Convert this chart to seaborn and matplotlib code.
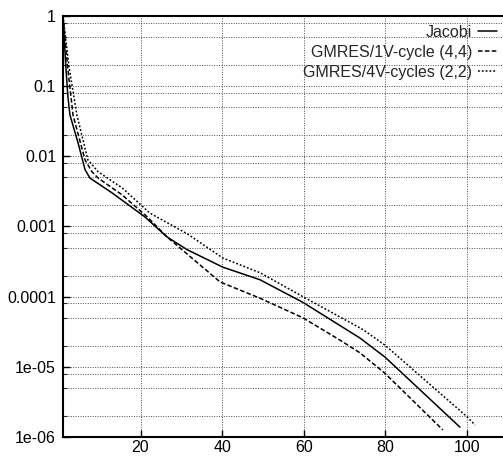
import matplotlib
matplotlib.use("Agg")
import matplotlib.pyplot as plt
import seaborn as sns
from matplotlib.ticker import FixedLocator, FixedFormatter, NullFormatter

# residual history
jacobi_iter = [1, 1.7, 2.2, 2.7, 4.7, 6.4, 7.6, 13, 21, 26.5, 31.4, 40.2, 49.3, 59.8, 73.8, 79.9, 98.3]
jacobi_res = [1, 0.186, 0.0708, 0.0389, 0.0155, 0.00646, 0.0049, 0.00302, 0.00138, 7.1e-4,
              4.68e-4, 2.63e-4, 1.74e-4, 8.3e-5, 2.57e-5, 1.38e-5, 1.38e-6]

gmres1_iter = [1, 2.15, 3.45, 6.4, 8.1, 9.6, 15.5, 21.6, 26.5, 39.5, 49.3, 59.8, 68.9, 73.8, 79.9, 94.1]
gmres1_res = [1, 0.186, 0.0389, 0.0089, 0.00603, 0.0049, 0.00282, 0.00138, 7.1e-4, 1.62e-4,
              9.5e-5, 5.0e-5, 2.4e-5, 1.58e-5, 8.1e-6, 1.26e-6]

gmres4_iter = [1, 2.5, 4.4, 7.1, 9.6, 15.5, 22.3, 31.4, 40.2, 49.3, 59.8, 74.5, 79.9, 100, 102]
gmres4_res = [1, 0.186, 0.0389, 0.0089, 0.00603, 0.00355, 0.00155, 7.9e-4, 3.55e-4, 2.19e-4,
              1.0e-4, 3.4e-5, 2.04e-5, 1.95e-6, 1.48e-6]

labels = ["Jacobi", "GMRES/1V-cycle (4,4)", "GMRES/4V-cycles (2,2)"]
ytick_vals = [1e-6, 1e-5, 1e-4, 1e-3, 1e-2, 1e-1, 1]
ytick_labels = ["1e-06", "1e-05", "0.0001", "0.001", "0.01", "0.1", "1"]
xtick_vals = [20, 40, 60, 80, 100]

sns.set_theme(style="ticks")
plt.rcParams["font.family"] = ["Liberation Sans", "DejaVu Sans"]
plt.rcParams["font.size"] = 11

fig = plt.figure(figsize=(5.03, 4.57), dpi=100)
ax = fig.add_axes([63 / 503, 20 / 457, 440 / 503, 421 / 457])

sns.lineplot(x=jacobi_iter, y=jacobi_res, ax=ax, color="black", lw=1.1,
             linestyle="-", label=labels[0])
sns.lineplot(x=gmres1_iter, y=gmres1_res, ax=ax, color="black", lw=1.1,
             linestyle=(0, (3, 1.5)), label=labels[1])
sns.lineplot(x=gmres4_iter, y=gmres4_res, ax=ax, color="black", lw=1.1,
             linestyle=(0, (1.2, 1.3)), label=labels[2])

ax.set_yscale("log")
ax.set_ylim(1e-6, 1)
ax.set_xlim(1, 1 + 440 / 4.08)

ax.yaxis.set_major_locator(FixedLocator(ytick_vals))
ax.yaxis.set_major_formatter(FixedFormatter(ytick_labels))
minor = [m * 10.0 ** e for e in range(-6, 0) for m in (2, 5, 8)]
ax.yaxis.set_minor_locator(FixedLocator(minor))
ax.yaxis.set_minor_formatter(NullFormatter())
ax.xaxis.set_major_locator(FixedLocator(xtick_vals))
ax.set_xlabel("")
ax.set_ylabel("")

ax.grid(True, which="both", axis="y", color="0.3", linestyle=(0, (1, 1.5)), lw=0.7)
ax.grid(True, which="major", axis="x", color="0.3", linestyle=(0, (1, 1.5)), lw=0.7)

ax.tick_params(which="major", direction="in", length=5, width=1, labelsize=11.5,
               colors="black")
ax.tick_params(axis="x", pad=2)
ax.tick_params(axis="y", pad=5)
ax.tick_params(which="minor", direction="in", length=3, width=0.8)
for side in ["left", "bottom", "top"]:
    ax.spines[side].set_color("black")
    ax.spines[side].set_linewidth(1.5)
ax.spines["right"].set_visible(False)

leg = ax.legend(loc="upper right", bbox_to_anchor=(497 / 503, (457 - 25) / 457),
                bbox_transform=fig.transFigure, frameon=False, markerfirst=False,
                handlelength=1.2, handletextpad=0.35, labelspacing=0.3,
                borderpad=0, borderaxespad=0, fontsize=11.5)
for col in leg._legend_handle_box.get_children():
    col.align = "right"

fig.savefig("out.png", dpi=100)
plt.close(fig)
